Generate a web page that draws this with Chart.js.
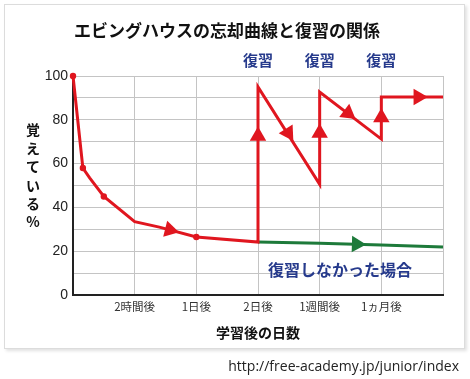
<!DOCTYPE html>
<html>
<head>
<meta charset="utf-8">
<script src="https://cdn.jsdelivr.net/npm/chart.js@4/dist/chart.umd.min.js"></script>
<style>
  body { margin: 0; background: #fff; width: 470px; height: 379px; position: relative; overflow: hidden; }
  .card { position: absolute; left: 4px; top: 4px; width: 459px; height: 343px; border: 1px solid #dcdcdc; box-shadow: 2px 2px 3px rgba(0,0,0,0.12); background: #fff; }
  #chart { position: absolute; left: 0; top: 0; }
  .src { position: absolute; right: 11px; top: 356px; font: 14px "Open Sans", sans-serif; color: #222; }
</style>
</head>
<body>
<div class="card"></div>
<canvas id="chart" width="470" height="379"></canvas>
<div class="src">http://free-academy.jp/junior/index</div>
<script>
// x: 0 = 学習直後, 1..5 = tick labels, 6 = right edge
const xLabels = ['', '2時間後', '1日後', '2日後', '1週間後', '1ヵ月後', ''];

// 復習した場合 (red)
const reviewX = [0, 0.16, 0.27, 0.5, 1, 1.4, 2, 3, 3, 4, 4, 5, 5, 6];
const reviewY = [100, 58, 53.5, 45, 33.5, 31, 26.5, 24.2, 95, 50.5, 92.7, 71.2, 90.4, 90.4];
const reviewDots = [1, 1, 0, 1, 0, 0, 1, 0, 0, 0, 0, 0, 0, 0];

// 復習しなかった場合 (green)
const noReviewX = [3, 4, 5, 6];
const noReviewY = [24.2, 23.6, 22.8, 21.9];

// arrow heads: position + direction (data units)
const arrowX = [1.57, 3, 3.49, 4, 4.46, 5, 5.6];
const arrowY = [29.7, 72.6, 74, 74, 83, 81, 90.4];
const arrowDir = [[1, -7], [0, 1], [1, -44.3], [0, 1], [1, -21.5], [0, 1], [1, 0]];
const greenArrowX = [4.6];
const greenArrowY = [23.2];
const greenArrowDir = [[1, -0.8]];

const reviewMarks = [3, 4, 5];

const RED = '#e0161f';
const GREEN = '#1d7a3a';
const NAVY = '#263a8c';
const JP = '"Noto Sans CJK JP", sans-serif';

const pts = (xs, ys) => xs.map((x, i) => ({ x: x, y: ys[i] }));

function arrowRotation(dirs, xs, ys) {
    return (ctx) => {
        const c = ctx.chart;
        const i = ctx.dataIndex;
        const sx = c.scales.x, sy = c.scales.y;
        const x0 = sx.getPixelForValue(xs[i]), y0 = sy.getPixelForValue(ys[i]);
        const x1 = sx.getPixelForValue(xs[i] + dirs[i][0]), y1 = sy.getPixelForValue(ys[i] + dirs[i][1]);
        return Math.atan2(y1 - y0, x1 - x0) * 180 / Math.PI + 90;
    };
}

// extra texts: 復習 marks, no-review label, stacked y title
const textPlugin = {
    id: 'texts',
    afterDatasetsDraw(chart) {
        const c = chart.ctx;
        const sx = chart.scales.x, sy = chart.scales.y;
        c.save();
        c.textAlign = 'center';
        c.textBaseline = 'middle';
        c.fillStyle = NAVY;
        c.font = 'bold 15px ' + JP;
        reviewMarks.forEach(v => c.fillText('復習', sx.getPixelForValue(v), chart.chartArea.top - 16));
        c.font = 'bold 16px ' + JP;
        c.fillText('復習しなかった場合', sx.getPixelForValue(4.33), sy.getPixelForValue(11.4));
        c.fillStyle = '#111';
        c.font = 'bold 14px ' + JP;
        const chars = ['覚', 'え', 'て', 'い', 'る', '%'];
        const y0 = sy.getPixelForValue(75.3);
        chars.forEach((ch, i) => c.fillText(ch, 33, y0 + i * 18.4));
        c.restore();
    }
};

new Chart(document.getElementById('chart'), {
    type: 'line',
    data: {
        datasets: [
            {
                data: pts(arrowX, arrowY),
                showLine: false,
                pointStyle: 'triangle',
                pointRadius: 9.5,
                pointBorderWidth: 0,
                pointBackgroundColor: RED,
                pointBorderColor: RED,
                pointRotation: arrowRotation(arrowDir, arrowX, arrowY),
                order: 0,
            },
            {
                data: pts(greenArrowX, greenArrowY),
                showLine: false,
                pointStyle: 'triangle',
                pointRadius: 9.5,
                pointBorderWidth: 0,
                pointBackgroundColor: GREEN,
                pointBorderColor: GREEN,
                pointRotation: arrowRotation(greenArrowDir, greenArrowX, greenArrowY),
                order: 0,
            },
            {
                data: pts(reviewX, reviewY),
                borderColor: RED,
                borderWidth: 3,
                borderJoinStyle: 'miter',
                pointRadius: reviewDots.map(d => d ? 3.2 : 0),
                pointBackgroundColor: RED,
                pointBorderWidth: 0,
                tension: 0,
                clip: false,
                order: 1,
            },
            {
                data: pts(noReviewX, noReviewY),
                borderColor: GREEN,
                borderWidth: 3,
                pointRadius: 0,
                order: 2,
            },
        ],
    },
    options: {
        responsive: false,
        animation: false,
        layout: { padding: { left: 11, right: 27, top: 0, bottom: 38 } },
        plugins: {
            legend: { display: false },
            tooltip: { enabled: false },
            title: {
                display: true,
                text: 'エビングハウスの忘却曲線と復習の関係',
                color: '#111',
                font: { family: JP, size: 17, weight: 'bold' },
                padding: { top: 20, bottom: 35.6 },
            },
        },
        scales: {
            x: {
                type: 'linear',
                min: 0,
                max: 6,
                afterFit: (s) => { s.height = 46; },
                ticks: {
                    stepSize: 1,
                    autoSkip: false,
                    maxRotation: 0,
                    padding: 5,
                    color: '#333',
                    font: { family: JP, size: 11.5 },
                    callback: (v) => xLabels[v],
                },
                grid: { color: '#c4c4c4', drawTicks: false },
                border: { color: '#222', width: 2 },
                title: {
                    display: true,
                    text: '学習後の日数',
                    color: '#111',
                    font: { family: JP, size: 14, weight: 'bold' },
                    padding: { top: 0, bottom: 0 },
                },
            },
            y: {
                min: 0,
                max: 100,
                afterFit: (s) => { s.width = 62; },
                ticks: {
                    stepSize: 10,
                    padding: 5,
                    color: '#222',
                    font: { family: '"Liberation Sans", sans-serif', size: 14 },
                    callback: (v) => (v % 20 === 0 ? v : ''),
                },
                grid: { color: '#c4c4c4', drawTicks: false },
                border: { color: '#222', width: 2 },
            },
        },
    },
    plugins: [textPlugin],
});
</script>
</body>
</html>
